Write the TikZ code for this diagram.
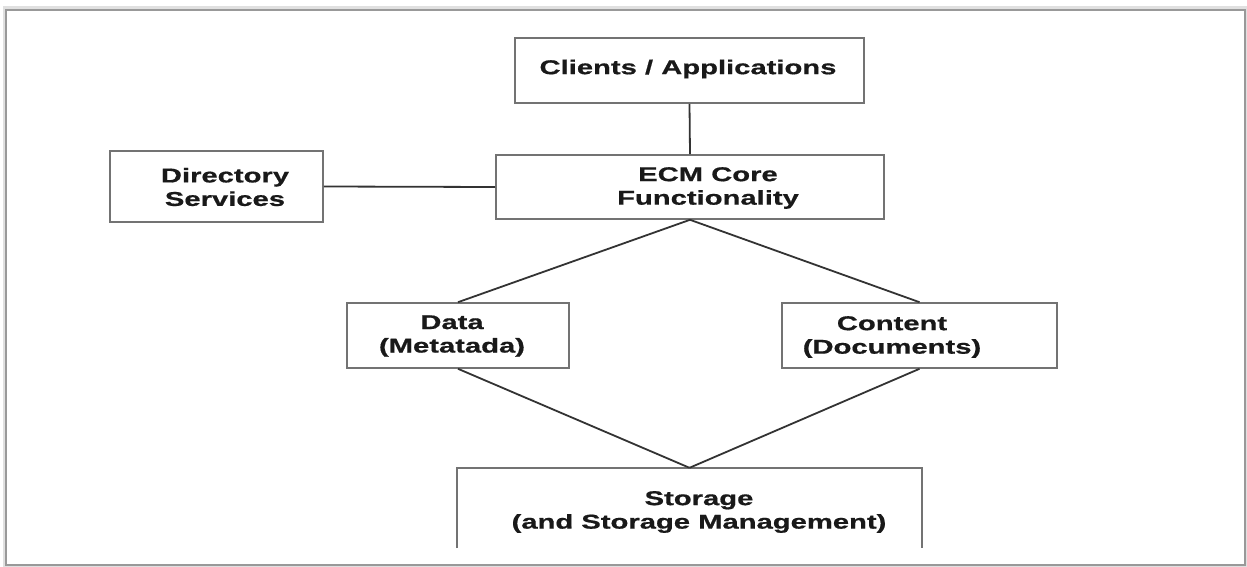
\documentclass[tikz,border=0pt]{standalone}
\usepackage{fontspec}
\newfontfamily\diafont{Liberation Sans}[FakeStretch=1.46, BoldFeatures={FakeBold=0.7}]
\begin{document}
\begin{tikzpicture}[x=1pt,y=-1pt,
  box/.style={draw=black!55, line width=1.6pt, inner sep=0pt, fill=white},
  lbl/.style={font=\diafont\bfseries\fontsize{20}{23.5}\selectfont, align=center, text=black!90, inner sep=0pt},
  link/.style={draw=black!80, line width=1.8pt}]
  % canvas
  \fill[white] (0,0) rectangle (1247,567);
  \useasboundingbox (0,0) rectangle (1247,567);
  % page frame with a soft shadow
  \draw[black!12, line width=3pt] (4,8) rectangle (1247,567);
  \draw[black!40, line width=1.2pt] (6,10) rectangle (1245,565);

  % boxes
  \node[box, minimum width=349pt, minimum height=65pt] (clients) at (689.5,70.5) {};
  \node[box, minimum width=213pt, minimum height=71pt] (dir) at (216.5,186.5) {};
  \node[box, minimum width=388pt, minimum height=64pt] (ecm) at (690,187) {};
  \node[box, minimum width=222pt, minimum height=65pt] (data) at (458,335.5) {};
  \node[box, minimum width=275pt, minimum height=65pt] (content) at (919.5,335.5) {};
  \node[inner sep=0pt, minimum width=465pt, minimum height=80pt] (storage) at (689.5,508) {};
  \draw[draw=black!55, line width=1.6pt] (storage.south west) -- (storage.north west)
    -- (storage.north east) -- (storage.south east);

  % labels
  \node[lbl] (clients-t) at (688,69) {Clients / Applications};
  \node[lbl] (dir-t) at (225,187) {Directory\\Services};
  \node[lbl] (ecm-t) at (708,188) {ECM Core\\Functionality};
  \node[lbl] (data-t) at (452,336) {Data\\(Metatada)};
  \node[lbl] (content-t) at (892,337) {Content\\(Documents)};
  \node[lbl] (storage-t) at (699,512) {Storage\\(and Storage Management)};

  % connectors
  \draw[link] (clients.south) -- (ecm.north);
  \draw[link] (dir.east) -- (ecm.west);
  \draw[link] (ecm.south) -- (data.north);
  \draw[link] (ecm.south) -- (content.north);
  \draw[link] (data.south) -- (storage.north);
  \draw[link] (content.south) -- (storage.north);
\end{tikzpicture}
\end{document}
